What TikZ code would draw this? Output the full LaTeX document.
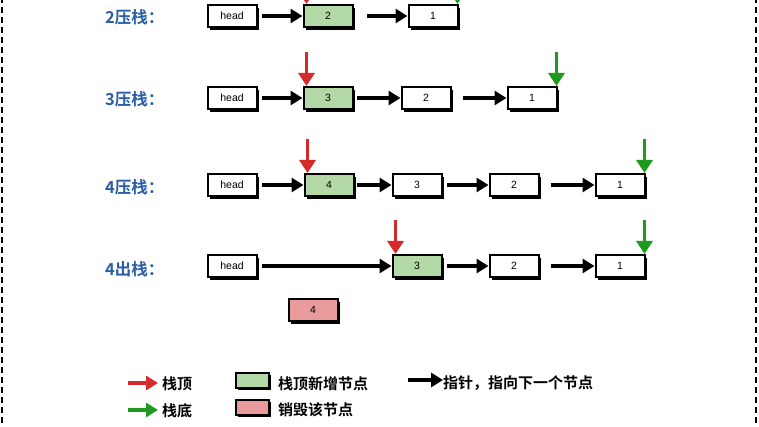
\documentclass[tikz,border=0pt]{standalone}
\usepackage{fontspec}
\setmainfont{Liberation Sans}
\newfontfamily\cjk{Noto Sans CJK SC}[BoldFont={Noto Sans CJK SC Bold}]
\usetikzlibrary{arrows.meta,shadows}
\definecolor{lblue}{HTML}{2B5EA6}
\definecolor{topred}{HTML}{D42A2A}
\definecolor{botgreen}{HTML}{1E9A1E}
\definecolor{newgreen}{HTML}{B3D9A6}
\definecolor{delpink}{HTML}{E99A9B}
\tikzset{
  nodebox/.style={draw, line width=2pt, minimum width=49pt, minimum height=22pt, inner sep=0pt,
    fill=white, font=\fontsize{10.5}{10.5}\selectfont,
    drop shadow={shadow xshift=2.8pt, shadow yshift=-2.8pt, fill=black, opacity=1}},
  newbox/.style={nodebox, fill=newgreen},
  delbox/.style={nodebox, fill=delpink},
  ptr/.style={line width=3.4pt, -{Triangle[length=12pt,width=14pt]}},
  toparrow/.style={line width=3.6pt, color=topred, -{Triangle[length=13pt,width=16pt]}},
  botarrow/.style={line width=3.6pt, color=botgreen, -{Triangle[length=13pt,width=16pt]}},
  steplabel/.style={font=\cjk\bfseries\fontsize{16.5}{16.5}\selectfont, text=lblue, anchor=east},
  legtext/.style={font=\cjk\bfseries\fontsize{15}{15}\selectfont, anchor=west, inner sep=0pt},
  border/.style={line width=2.2pt, dash pattern=on 6pt off 4pt}
}
\begin{document}
\begin{tikzpicture}[x=1pt,y=-1pt]
\useasboundingbox (0,0) rectangle (759,427);
\clip (0,0) rectangle (759,427);
\fill[white] (0,0) rectangle (759,427);
\draw[border] (2,-3) -- (2,430);
\draw[border] (756,-3) -- (756,430);

% row 1
\node[steplabel] (l1) at (168,17) {2压栈：};
\node[nodebox] (h1) at (232,16) {head};
\node[newbox] (a2) at (328,16) {2};
\node[nodebox] (a1) at (433,16) {1};
\draw[ptr, shorten <=4pt] (h1.east) -- (a2.west);
\draw[ptr, shorten <=13pt] (a2.east) -- (a1.west);
\draw[toparrow] ([xshift=4pt,yshift=34pt]a2.north west) -- ([xshift=4pt]a2.north west);
\draw[botarrow] ([xshift=-1pt,yshift=34pt]a1.north east) -- ([xshift=-1pt]a1.north east);

% row 2
\node[steplabel] (l2) at (168,99) {3压栈：};
\node[nodebox] (h2) at (232,98) {head};
\node[newbox] (b3) at (328,98) {3};
\node[nodebox] (b2) at (426,98) {2};
\node[nodebox] (b1) at (532,98) {1};
\draw[ptr, shorten <=4pt] (h2.east) -- (b3.west);
\draw[ptr, shorten <=3pt] (b3.east) -- (b2.west);
\draw[ptr, shorten <=11pt] (b2.east) -- (b1.west);
\draw[toparrow] ([xshift=4pt,yshift=34pt]b3.north west) -- ([xshift=4pt]b3.north west);
\draw[botarrow] ([xshift=-1pt,yshift=34pt]b1.north east) -- ([xshift=-1pt]b1.north east);

% row 3
\node[steplabel] (l3) at (168,187) {4压栈：};
\node[nodebox] (h3) at (232,185) {head};
\node[newbox] (c4) at (329,185) {4};
\node[nodebox] (c3) at (417,185) {3};
\node[nodebox] (c2) at (514,185) {2};
\node[nodebox] (c1) at (620,185) {1};
\draw[ptr, shorten <=4pt] (h3.east) -- (c4.west);
\draw[ptr, shorten <=2pt] (c4.east) -- (c3.west);
\draw[ptr, shorten <=4pt] (c3.east) -- (c2.west);
\draw[ptr, shorten <=11pt] (c2.east) -- (c1.west);
\draw[toparrow] ([xshift=4pt,yshift=34pt]c4.north west) -- ([xshift=4pt]c4.north west);
\draw[botarrow] ([xshift=-1pt,yshift=34pt]c1.north east) -- ([xshift=-1pt]c1.north east);

% row 4
\node[steplabel] (l4) at (168,269) {4出栈：};
\node[nodebox] (h4) at (232,266) {head};
\node[newbox] (d3) at (417,266) {3};
\node[nodebox] (d2) at (514,266) {2};
\node[nodebox] (d1) at (620,266) {1};
\node[delbox] (d4) at (313,310) {4};
\draw[ptr, shorten <=4pt] (h4.east) -- (d3.west);
\draw[ptr, shorten <=4pt] (d3.east) -- (d2.west);
\draw[ptr, shorten <=11pt] (d2.east) -- (d1.west);
\draw[toparrow] ([xshift=4pt,yshift=34pt]d3.north west) -- ([xshift=4pt]d3.north west);
\draw[botarrow] ([xshift=-1pt,yshift=34pt]d1.north east) -- ([xshift=-1pt]d1.north east);

% legend
\coordinate (lr1) at (128,383);
\coordinate (lr2) at (158,383);
\draw[line width=3.6pt, color=topred, -{Triangle[length=12pt,width=14pt]}] (lr1) -- (lr2);
\node[legtext] (tr) at (162,384) {栈顶};
\coordinate (lg1) at (128,410);
\coordinate (lg2) at (158,410);
\draw[line width=3.6pt, color=botgreen, -{Triangle[length=12pt,width=14pt]}] (lg1) -- (lg2);
\node[legtext] (tg) at (162,411) {栈底};
\node[nodebox, fill=newgreen, minimum width=33pt, minimum height=15pt] (kg) at (252,380) {};
\node[legtext] (tkg) at (278,384) {栈顶新增节点};
\node[nodebox, fill=delpink, minimum width=33pt, minimum height=15pt] (kp) at (252,407) {};
\node[legtext] (tkp) at (278,410) {销毁该节点};
\coordinate (lp1) at (408,380);
\coordinate (lp2) at (443,380);
\draw[ptr] (lp1) -- (lp2);
\node[legtext] (tp) at (443,383) {指针，指向下一个节点};
\end{tikzpicture}
\end{document}
